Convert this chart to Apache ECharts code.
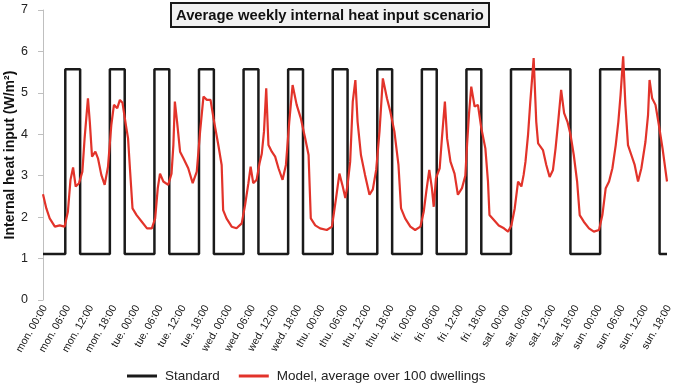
<!DOCTYPE html>
<html>
<head>
<meta charset="utf-8">
<script src="https://cdn.jsdelivr.net/npm/echarts@6/dist/echarts.min.js"></script>
<style>
html,body{margin:0;padding:0;background:#fff;}
#main{width:685px;height:385px;}
</style>
</head>
<body>
<div id="main"></div>
<script>
// tick labels, one every 6 hours
var tickLabels = [
	'mon. 00:00','mon. 06:00','mon. 12:00','mon. 18:00',
	'tue. 00:00','tue. 06:00','tue. 12:00','tue. 18:00',
	'wed. 00:00','wed. 06:00','wed. 12:00','wed. 18:00',
	'thu. 00:00','thu. 06:00','thu. 12:00','thu. 18:00',
	'fri. 00:00','fri. 06:00','fri. 12:00','fri. 18:00',
	'sat. 00:00','sat. 06:00','sat. 12:00','sat. 18:00',
	'sun. 00:00','sun. 06:00','sun. 12:00','sun. 18:00'
];

// standard scenario: hour of the week where the value changes, value from there on
var standardHours = [0,6,10,18,22, 30,34,42,46, 54,58,66,70, 78,82,90,94, 102,106,114,118, 126,142, 150,166, 168];
var standardValues = [1.11,5.57,1.11,5.57,1.11, 5.57,1.11,5.57,1.11, 5.57,1.11,5.57,1.11, 5.57,1.11,5.57,1.11, 5.57,1.11,5.57,1.11, 5.57,1.11, 5.57,1.11, 1.11];

// model, average over 100 dwellings (hour of week, W/m2)
var modelHours = [
	0,0.9,1.8,3.2,4.5,5.8,6.7,7.4,8.1,8.8,9.7,10.6,11.2,12.1,12.6,13.2,14.1,14.8,15.7,16.6,17.5,18.4,19.1,20,20.7,21.4,22.3,22.9,23.4,
	24.1,25.2,26.6,28,29.3,30.2,30.9,31.5,32.4,33.7,34.6,35.1,35.5,36.1,36.9,37.8,39.1,40.3,41.4,42.3,43.2,44.1,45.1,45.9,47.2,
	48.1,48.5,49.4,50.8,52.1,53.5,54.4,55.3,55.9,56.6,57.5,58.3,58.9,59.5,60.1,60.7,61.6,62.5,63.4,64.5,65.4,66.3,67.2,68.3,69.4,70.6,71.5,
	72.1,73.3,74.6,76.4,77.8,78.9,79.8,80.7,81.4,82,82.7,83.4,84.1,84.7,85.6,86.7,87.9,88.8,89.7,90.6,91.5,92.6,93.5,94.6,95.7,
	96.4,97.5,98.9,100.2,101.6,102.5,103.2,104,104.7,105.2,105.8,106.8,107.4,108.2,108.8,109.7,110.8,111.7,112.8,113.7,114.2,114.7,115.3,116.2,117.1,118,119.1,119.8,
	120.2,121.4,122.7,124.1,125.2,126.1,127,127.9,128.8,129.4,129.9,130.6,131.2,132.1,132.8,133.3,134.6,135.5,136.4,137.3,138,138.7,139.5,140.3,141.2,142,142.9,143.8,
	144.5,145.6,147,148.3,149.7,150.6,151.5,152.4,153.3,154.2,154.9,155.5,156.2,156.8,157.5,158.4,159.3,160.2,161.1,162.2,162.9,163.3,164,164.9,165.8,166.8,168
];
var modelValues = [
	2.55,2.21,1.97,1.77,1.8,1.77,2.13,2.9,3.2,2.74,2.82,3.1,3.9,4.87,4.3,3.46,3.58,3.42,3.02,2.78,3.22,4.23,4.71,4.63,4.83,4.76,4.23,3.9,3.18,
	2.21,2.05,1.89,1.73,1.73,1.97,2.7,3.05,2.86,2.78,3.05,3.74,4.79,4.3,3.58,3.42,3.18,2.82,3.1,4.07,4.91,4.83,4.83,4.39,3.74,
	3.26,2.17,1.97,1.77,1.73,1.85,2.29,2.82,3.22,2.82,2.9,3.3,3.53,4.07,5.11,3.74,3.58,3.46,3.18,2.9,3.26,4.3,5.19,4.71,4.39,3.9,3.5,
	1.97,1.8,1.73,1.69,1.77,2.46,3.05,2.74,2.46,2.78,3.34,4.79,5.31,4.3,3.5,3.02,2.54,2.67,3.14,4.07,5.35,4.87,4.55,4.07,3.26,
	2.21,1.97,1.77,1.69,1.77,2.13,2.62,3.14,2.7,2.25,2.94,3.18,3.9,4.79,3.9,3.34,3.05,2.54,2.7,3.0,3.8,4.5,5.15,4.67,4.71,4.15,3.66,2.86,
	2.05,1.93,1.8,1.73,1.65,1.8,2.21,2.86,2.74,3.02,3.34,4.0,4.79,5.84,4.3,3.78,3.62,3.26,2.97,3.14,3.66,4.3,5.07,4.51,4.3,4.0,3.5,2.86,
	2.05,1.89,1.73,1.65,1.69,2.05,2.7,2.86,3.18,3.74,4.3,4.95,5.88,4.71,3.74,3.5,3.26,2.86,3.18,3.82,4.47,5.31,4.87,4.71,4.23,3.66,2.86
];

function pairs(xs, ys){
	var out = [];
	for(var i = 0; i < xs.length; i++){
		out.push([xs[i], ys[i]]);
	}
	return out;
}

var chart = echarts.init(document.getElementById('main'));
var option = {
	animation: false,
	backgroundColor: '#fff',
	textStyle: { fontFamily: 'Liberation Sans' },
	title: {
		text: 'Average weekly internal heat input scenario',
		left: 171,
		top: 3,
		padding: [5, 5, 4, 5],
		backgroundColor: '#f2f2f2',
		borderColor: '#1a1a1a',
		borderWidth: 2,
		textStyle: { fontSize: 14.8, fontWeight: 'bold', color: '#111', fontFamily: 'Liberation Sans' }
	},
	legend: {
		left: 122,
		top: 364,
		icon: 'rect',
		itemWidth: 30,
		itemHeight: 3,
		itemGap: 19,
		textStyle: { fontSize: 13.5, color: '#222', padding: [0, 0, 0, 3] },
		data: ['Standard', 'Model, average over 100 dwellings']
	},
	grid: [
		{ left: 43, right: 18, top: 10, bottom: 85, outerBoundsMode: 'none' },
		{ left: 45, right: 16, top: 10, bottom: 85, outerBoundsMode: 'none' }
	],
	xAxis: [
		{
			type: 'value', gridIndex: 0, min: 0, max: 168,
			axisLine: { show: false }, axisTick: { show: false },
			axisLabel: { show: false }, splitLine: { show: false }
		},
		{
			type: 'category', gridIndex: 1, data: tickLabels, boundaryGap: false,
			axisLine: { show: false }, axisTick: { show: false }, splitLine: { show: false },
			axisLabel: { interval: 0, rotate: 60, fontSize: 10.5, color: '#111', margin: 6 }
		}
	],
	yAxis: [
		{
			type: 'value', gridIndex: 0, min: 0, max: 7, interval: 1,
			name: 'Internal heat input (W/m\u00b2)',
			nameLocation: 'middle',
			nameGap: 26,
			nameMoveOverlap: false,
			nameTextStyle: { fontSize: 14, fontWeight: 'bold', color: '#111' },
			axisLine: { show: true, lineStyle: { color: '#bfbfbf', width: 1 } },
			axisTick: { show: true, length: 5, lineStyle: { color: '#bfbfbf' } },
			axisLabel: { fontSize: 12.5, color: '#222', margin: 15 },
			splitLine: { show: false }
		},
		{ type: 'value', gridIndex: 1, min: 0, max: 7, show: false }
	],
	series: [
		{
			name: 'Standard',
			type: 'line',
			xAxisIndex: 0, yAxisIndex: 0,
			step: 'end',
			symbol: 'none',
			lineStyle: { color: '#1a1a1a', width: 2.5 },
			itemStyle: { color: '#1a1a1a' },
			data: pairs(standardHours, standardValues)
		},
		{
			name: 'Model, average over 100 dwellings',
			type: 'line',
			xAxisIndex: 0, yAxisIndex: 0,
			symbol: 'none',
			lineStyle: { color: '#e2332a', width: 2.2 },
			itemStyle: { color: '#e2332a' },
			data: pairs(modelHours, modelValues)
		}
	]
};
chart.setOption(option);
</script>
</body>
</html>
